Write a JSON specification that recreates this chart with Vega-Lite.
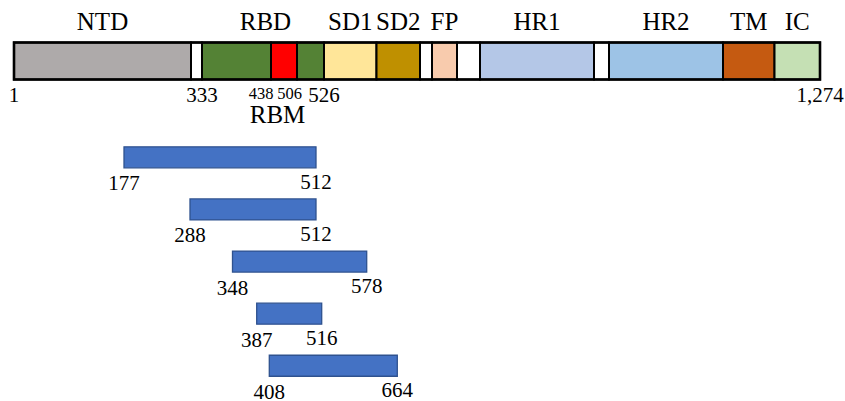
{
  "$schema": "https://vega.github.io/schema/vega-lite/v6.json",
  "width": 845,
  "height": 401,
  "autosize": {"type": "none"},
  "padding": 0,
  "background": "white",
  "config": {"view": {"stroke": null}, "text": {"font": "Liberation Serif", "color": "black"}},
  "datasets": {
    "segments": [
      {"domain": "NTD", "start": 1, "end": 305},
      {"domain": "gap", "start": 305, "end": 333},
      {"domain": "RBD", "start": 333, "end": 438},
      {"domain": "RBM", "start": 438, "end": 506},
      {"domain": "RBD", "start": 506, "end": 526},
      {"domain": "SD1", "start": 526, "end": 591},
      {"domain": "SD2", "start": 591, "end": 685},
      {"domain": "gap", "start": 685, "end": 788},
      {"domain": "FP", "start": 788, "end": 806},
      {"domain": "gap", "start": 806, "end": 912},
      {"domain": "HR1", "start": 912, "end": 984},
      {"domain": "gap", "start": 984, "end": 1163},
      {"domain": "HR2", "start": 1163, "end": 1213},
      {"domain": "TM", "start": 1213, "end": 1237},
      {"domain": "IC", "start": 1237, "end": 1274}
    ],
    "domains": [
      {"name": "NTD", "start": 1, "end": 305},
      {"name": "RBD", "start": 333, "end": 526},
      {"name": "SD1", "start": 526, "end": 591},
      {"name": "SD2", "start": 591, "end": 685},
      {"name": "FP", "start": 788, "end": 806},
      {"name": "HR1", "start": 912, "end": 984},
      {"name": "HR2", "start": 1163, "end": 1213},
      {"name": "TM", "start": 1213, "end": 1237},
      {"name": "IC", "start": 1237, "end": 1274}
    ],
    "motif": [
      {"name": "RBM", "start": 438, "end": 506}
    ],
    "residues": [
      {"pos": 1}, {"pos": 333}, {"pos": 438}, {"pos": 506}, {"pos": 526}, {"pos": 1274}
    ],
    "fragments": [
      {"id": 1, "start": 177, "end": 512},
      {"id": 2, "start": 288, "end": 512},
      {"id": 3, "start": 348, "end": 578},
      {"id": 4, "start": 387, "end": 516},
      {"id": 5, "start": 408, "end": 664}
    ]
  },
  "layer": [
    {
      "layer": [
        {
          "data": {"name": "segments"},
          "mark": {"type": "bar", "stroke": "black", "strokeWidth": 2},
          "encoding": {
            "x": {"field": "start", "type": "quantitative", "axis": null,
              "scale": {"domain": [1, 305, 333, 438, 506, 526, 591, 685, 788, 806, 912, 984, 1163, 1213, 1237, 1274],
                        "range": [14, 191, 202, 271, 297, 324, 376.5, 420, 432, 457, 480, 594, 609, 723, 774.5, 820],
                        "zero": false, "nice": false}},
            "x2": {"field": "end"},
            "y": {"datum": "spike", "type": "nominal", "axis": null,
              "scale": {"type": "band", "domain": ["spike"], "range": [42.5, 79.5], "paddingInner": 0, "paddingOuter": 0}},
            "color": {"field": "domain", "type": "nominal", "legend": null,
              "scale": {"domain": ["NTD", "gap", "RBD", "RBM", "SD1", "SD2", "FP", "HR1", "HR2", "TM", "IC"],
                        "range": ["#AEAAAA", "#FFFFFF", "#548235", "#FF0000", "#FFE699", "#BF9000", "#F8CBAD", "#B4C7E7", "#9DC3E6", "#C55A11", "#C5E0B4"]}}
          }
        },
        {
          "data": {"name": "segments"},
          "mark": {"type": "bar", "fill": null, "fillOpacity": 0, "stroke": "black", "strokeWidth": 2.6},
          "encoding": {
            "x": {"aggregate": "min", "field": "start", "type": "quantitative", "axis": null},
            "x2": {"aggregate": "max", "field": "end"},
            "y": {"datum": "spike", "type": "nominal", "axis": null}
          }
        },
        {
          "data": {"name": "domains"},
          "transform": [{"fold": ["start", "end"], "as": ["k", "v"]}],
          "mark": {"type": "text", "fontSize": 25, "baseline": "alphabetic", "align": "center", "dy": -31},
          "encoding": {
            "x": {"aggregate": "mean", "field": "v", "type": "quantitative", "axis": null},
            "y": {"datum": "spike", "type": "nominal", "axis": null},
            "text": {"field": "name", "type": "nominal"}
          }
        },
        {
          "data": {"name": "motif"},
          "transform": [{"fold": ["start", "end"], "as": ["k", "v"]}],
          "mark": {"type": "text", "fontSize": 25, "baseline": "alphabetic", "align": "center", "dy": 62, "dx": -6.5},
          "encoding": {
            "x": {"aggregate": "mean", "field": "v", "type": "quantitative", "axis": null},
            "y": {"datum": "spike", "type": "nominal", "axis": null},
            "text": {"field": "name", "type": "nominal"}
          }
        },
        {
          "data": {"name": "residues"},
          "transform": [{"filter": {"not": {"field": "pos", "oneOf": [438, 506]}}}],
          "mark": {"type": "text", "fontSize": 21, "baseline": "alphabetic", "align": "center", "dy": 41},
          "encoding": {
            "x": {"field": "pos", "type": "quantitative", "axis": null},
            "y": {"datum": "spike", "type": "nominal", "axis": null},
            "text": {"field": "pos", "type": "quantitative", "format": ","}
          }
        },
        {
          "data": {"name": "residues"},
          "transform": [{"filter": {"field": "pos", "equal": 438}}],
          "mark": {"type": "text", "fontSize": 16.5, "baseline": "alphabetic", "align": "right", "dy": 38, "dx": 2.5},
          "encoding": {
            "x": {"field": "pos", "type": "quantitative", "axis": null},
            "y": {"datum": "spike", "type": "nominal", "axis": null},
            "text": {"field": "pos", "type": "quantitative", "format": "d"}
          }
        },
        {
          "data": {"name": "residues"},
          "transform": [{"filter": {"field": "pos", "equal": 506}}],
          "mark": {"type": "text", "fontSize": 16.5, "baseline": "alphabetic", "align": "right", "dy": 38, "dx": 5},
          "encoding": {
            "x": {"field": "pos", "type": "quantitative", "axis": null},
            "y": {"datum": "spike", "type": "nominal", "axis": null},
            "text": {"field": "pos", "type": "quantitative", "format": "d"}
          }
        }
      ]
    },
    {
      "data": {"name": "fragments"},
      "layer": [
        {
          "mark": {"type": "bar", "color": "#4472C4", "stroke": "#2F528F", "strokeWidth": 1.3},
          "encoding": {
            "x": {"field": "start", "type": "quantitative", "axis": null,
              "scale": {"domain": [177, 288, 348, 387, 408, 512, 516, 578, 664],
                        "range": [124, 190, 232.5, 256.7, 269.3, 316, 321.7, 366.7, 397.3],
                        "zero": false, "nice": false}},
            "x2": {"field": "end"},
            "y": {"field": "id", "type": "ordinal", "axis": null,
              "scale": {"type": "band", "range": [131.2, 391.9], "paddingInner": 0.597, "paddingOuter": 0.3}}
          }
        },
        {
          "mark": {"type": "text", "fontSize": 21, "baseline": "alphabetic", "align": "center", "dy": 33},
          "encoding": {
            "x": {"field": "start", "type": "quantitative", "axis": null},
            "y": {"field": "id", "type": "ordinal", "axis": null},
            "text": {"field": "start", "type": "quantitative", "format": "d"}
          }
        },
        {
          "mark": {"type": "text", "fontSize": 21, "baseline": "alphabetic", "align": "center", "dy": 31.5},
          "encoding": {
            "x": {"field": "end", "type": "quantitative", "axis": null},
            "y": {"field": "id", "type": "ordinal", "axis": null},
            "text": {"field": "end", "type": "quantitative", "format": "d"}
          }
        }
      ]
    }
  ],
  "resolve": {"scale": {"x": "independent", "y": "independent"}}
}
